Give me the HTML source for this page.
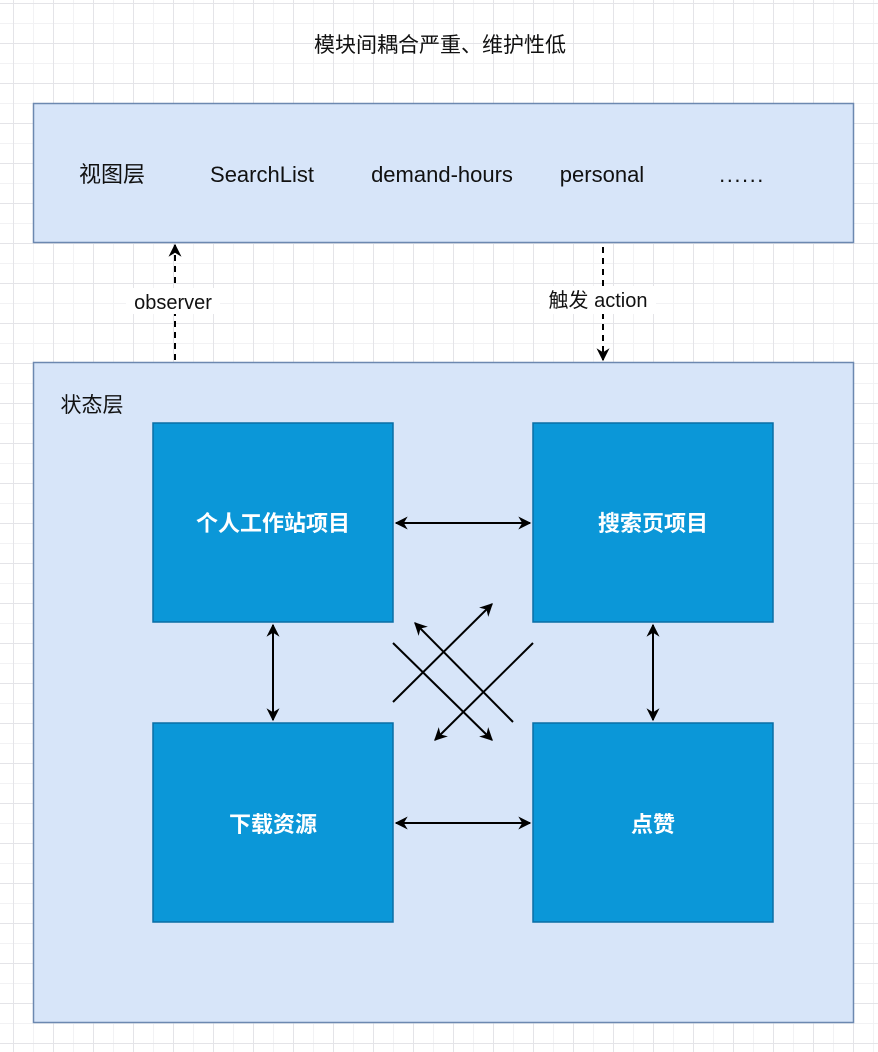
<!DOCTYPE html>
<html><head><meta charset="utf-8"><style>
html,body{margin:0;padding:0;}
body{width:878px;height:1052px;overflow:hidden;background:#fff;
background-image:linear-gradient(#e4e4e8 1px,transparent 1px),linear-gradient(90deg,#e4e4e8 1px,transparent 1px),linear-gradient(#f2f2f4 1px,transparent 1px),linear-gradient(90deg,#f2f2f4 1px,transparent 1px);
background-size:40px 40px,40px 40px,20px 20px,20px 20px;background-position:13px 3px,13px 3px,13px 3px,13px 3px;}
svg{position:absolute;left:0;top:0;}
text{font-family:"Liberation Sans","Noto Sans CJK SC",sans-serif;}
</style></head><body>
<svg width="878" height="1052" viewBox="0 0 878 1052">
<defs>
<marker id="a" viewBox="0 0 10 10" refX="9" refY="5" markerWidth="15" markerHeight="13" markerUnits="userSpaceOnUse" orient="auto-start-reverse">
<path d="M0,0 L10,5 L0,10 L3,5 z" fill="#000"/></marker>
</defs>
<text x="440" y="52" font-size="21" text-anchor="middle" fill="#111">模块间耦合严重、维护性低</text>
<rect x="33.5" y="103.5" width="820" height="139" fill="#d7e5f9" stroke="#6c88b0" stroke-width="1.5"/>
<text x="112" y="182" font-size="22" text-anchor="middle" fill="#111">视图层</text>
<text x="262" y="182" font-size="22" text-anchor="middle" fill="#111">SearchList</text>
<text x="442" y="182" font-size="22" text-anchor="middle" fill="#111">demand-hours</text>
<text x="602" y="182" font-size="22" text-anchor="middle" fill="#111">personal</text>
<text x="742" y="182" font-size="22" text-anchor="middle" fill="#111" letter-spacing="1.5">......</text>
<rect x="33.5" y="362.5" width="820" height="660" fill="#d7e5f9" stroke="#6c88b0" stroke-width="1.5"/>
<text x="92" y="412" font-size="21" text-anchor="middle" fill="#111">状态层</text>
<line x1="175" y1="360" x2="175" y2="245" stroke="#000" stroke-width="2" stroke-dasharray="6,5" marker-end="url(#a)"/>
<rect x="126" y="288" width="94" height="26" fill="#fff"/>
<text x="173" y="309" font-size="20" text-anchor="middle" fill="#111">observer</text>
<line x1="603" y1="247" x2="603" y2="360" stroke="#000" stroke-width="2" stroke-dasharray="6,5" marker-end="url(#a)"/>
<rect x="540" y="286" width="116" height="28" fill="#fff"/>
<text x="598" y="307" font-size="20" text-anchor="middle" fill="#111">触发 action</text>
<g fill="#0b97d8" stroke="#0a6ea6" stroke-width="1.5">
<rect x="153" y="423" width="240" height="199"/>
<rect x="533" y="423" width="240" height="199"/>
<rect x="153" y="723" width="240" height="199"/>
<rect x="533" y="723" width="240" height="199"/>
</g>
<g font-size="22" font-weight="bold" text-anchor="middle" fill="#fff">
<text x="273" y="531">个人工作站项目</text>
<text x="653" y="531">搜索页项目</text>
<text x="273" y="832">下载资源</text>
<text x="653" y="832">点赞</text>
</g>
<g stroke="#000" stroke-width="2" fill="none">
<line x1="396" y1="523" x2="530" y2="523" marker-start="url(#a)" marker-end="url(#a)"/>
<line x1="396" y1="823" x2="530" y2="823" marker-start="url(#a)" marker-end="url(#a)"/>
<line x1="273" y1="625" x2="273" y2="720" marker-start="url(#a)" marker-end="url(#a)"/>
<line x1="653" y1="625" x2="653" y2="720" marker-start="url(#a)" marker-end="url(#a)"/>
<line x1="393" y1="702" x2="492" y2="604" marker-end="url(#a)"/>
<line x1="393" y1="643" x2="492" y2="740" marker-end="url(#a)"/>
<line x1="533" y1="643" x2="435" y2="740" marker-end="url(#a)"/>
<line x1="513" y1="722" x2="415" y2="623" marker-end="url(#a)"/>
</g>
</svg>
</body></html>
